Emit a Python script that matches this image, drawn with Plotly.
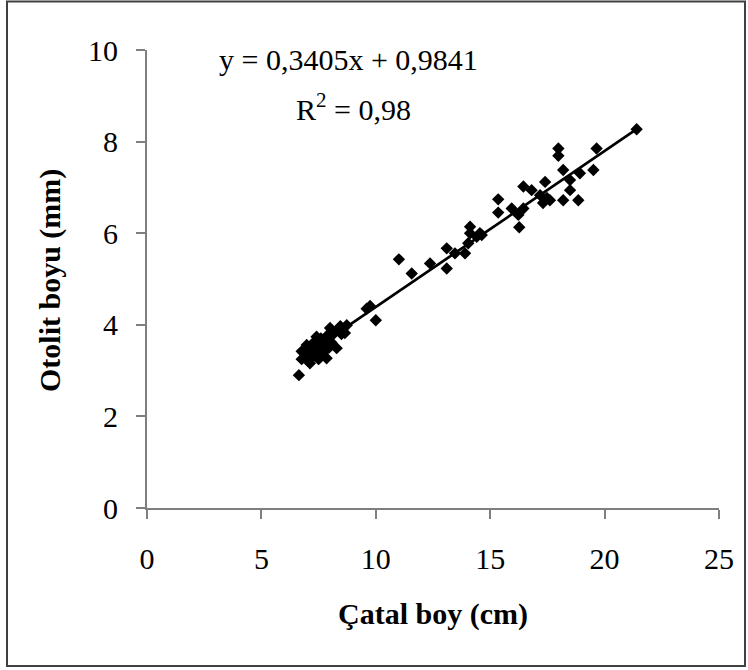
import plotly.graph_objects as go

# Data (Çatal boy in cm, Otolit boyu in mm)
catal_boy = [6.64, 6.76, 6.76, 6.90, 6.98, 7.05, 7.12, 7.20, 7.25, 7.30,
             7.41, 7.40, 7.50, 7.55, 7.60, 7.70, 7.75, 7.85, 7.85, 7.95,
             8.00, 8.05, 8.15, 8.29, 8.35, 8.45, 8.50, 8.65, 8.73, 9.60,
             9.75, 10.00, 11.01, 11.57, 12.37, 13.10, 13.10, 13.46, 13.90, 14.04,
             14.12, 14.12, 14.41, 14.55, 14.63, 15.35, 15.35, 15.94, 16.23, 16.27,
             16.45, 16.45, 16.81, 17.18, 17.31, 17.40, 17.48, 17.61, 17.98, 17.98,
             18.19, 18.19, 18.49, 18.49, 18.85, 18.92, 19.51, 19.65, 21.40]
otolit_boyu = [2.90, 3.25, 3.42, 3.30, 3.56, 3.40, 3.16, 3.50, 3.30, 3.62,
               3.74, 3.45, 3.25, 3.55, 3.70, 3.40, 3.60, 3.27, 3.75, 3.50,
               3.93, 3.62, 3.80, 3.49, 3.90, 3.97, 3.80, 3.82, 3.99, 4.35,
               4.41, 4.10, 5.43, 5.12, 5.34, 5.67, 5.23, 5.56, 5.56, 5.78,
               6.14, 6.00, 5.92, 6.00, 5.96, 6.74, 6.45, 6.54, 6.40, 6.13,
               6.54, 7.02, 6.94, 6.83, 6.66, 7.12, 6.77, 6.72, 7.85, 7.69,
               7.38, 6.72, 7.16, 6.94, 6.72, 7.31, 7.38, 7.85, 8.27]

slope = 0.3405
intercept = 0.9841
x_ticks = [0, 5, 10, 15, 20, 25]
y_ticks = [0, 2, 4, 6, 8, 10]

equation_text = "y = 0,3405x + 0,9841"
r2_text = "R<sup>2</sup> = 0,98"
x_title = "Çatal boy (cm)"
y_title = "Otolit boyu (mm)"

FONT = "Liberation Serif"

# pixel geometry helpers
W, H = 748, 670
L, R, T, B = 147, 719, 50, 508


def px_x(p):
    return (p - L) / (R - L)


def px_y(p):
    return (B - p) / (B - T)


x_line = [min(catal_boy), max(catal_boy)]
y_line = [slope * v + intercept for v in x_line]

fig = go.Figure()
fig.add_trace(go.Scatter(
    x=x_line, y=y_line, mode="lines",
    line=dict(color="black", width=2.7), hoverinfo="skip", showlegend=False))
fig.add_trace(go.Scatter(
    x=catal_boy, y=otolit_boyu, mode="markers",
    marker=dict(symbol="diamond", size=9.5, color="black", line=dict(width=0)),
    showlegend=False))

axis_common = dict(
    showgrid=False, zeroline=False, showline=True, linecolor="#7f7f7f",
    linewidth=2, ticks="outside", tickcolor="#7f7f7f", tickwidth=2,
    ticklen=9, tickfont=dict(family=FONT, size=30, color="black"),
)

fig.update_xaxes(range=[0, 25], tickvals=x_ticks, ticklabelstandoff=14, **axis_common)
fig.update_yaxes(range=[0, 10], tickvals=y_ticks, ticklabelstandoff=12, **axis_common)

fig.update_layout(
    width=W, height=H,
    margin=dict(l=L, r=W - R, t=T, b=H - B, pad=0),
    paper_bgcolor="white", plot_bgcolor="white",
    annotations=[
        dict(text=equation_text, xref="paper", yref="paper",
             x=px_x(348), y=px_y(59), xanchor="center", yanchor="middle",
             showarrow=False, font=dict(family=FONT, size=30, color="black")),
        dict(text=r2_text, xref="paper", yref="paper",
             x=px_x(353), y=px_y(107), xanchor="center", yanchor="middle",
             showarrow=False, font=dict(family=FONT, size=30, color="black")),
        dict(text="<b>" + x_title + "</b>", xref="paper", yref="paper",
             x=px_x(433), y=px_y(614), xanchor="center", yanchor="middle",
             showarrow=False, font=dict(family=FONT, size=30, color="black")),
        dict(text="<b>" + y_title + "</b>", xref="paper", yref="paper",
             x=px_x(50), y=px_y(281), xanchor="center", yanchor="middle",
             textangle=-90, showarrow=False,
             font=dict(family=FONT, size=30, color="black")),
    ],
    shapes=[dict(type="rect", xref="paper", yref="paper",
                 x0=px_x(7), x1=px_x(745), y0=px_y(666), y1=px_y(1.5),
                 line=dict(color="#404040", width=2), fillcolor="rgba(0,0,0,0)",
                 layer="above")],
)

fig.write_html(
    "out.html",
    config={"displayModeBar": False},
    post_script="document.body.style.margin='0';document.body.style.padding='0';"
                "document.body.style.overflow='hidden';",
)
